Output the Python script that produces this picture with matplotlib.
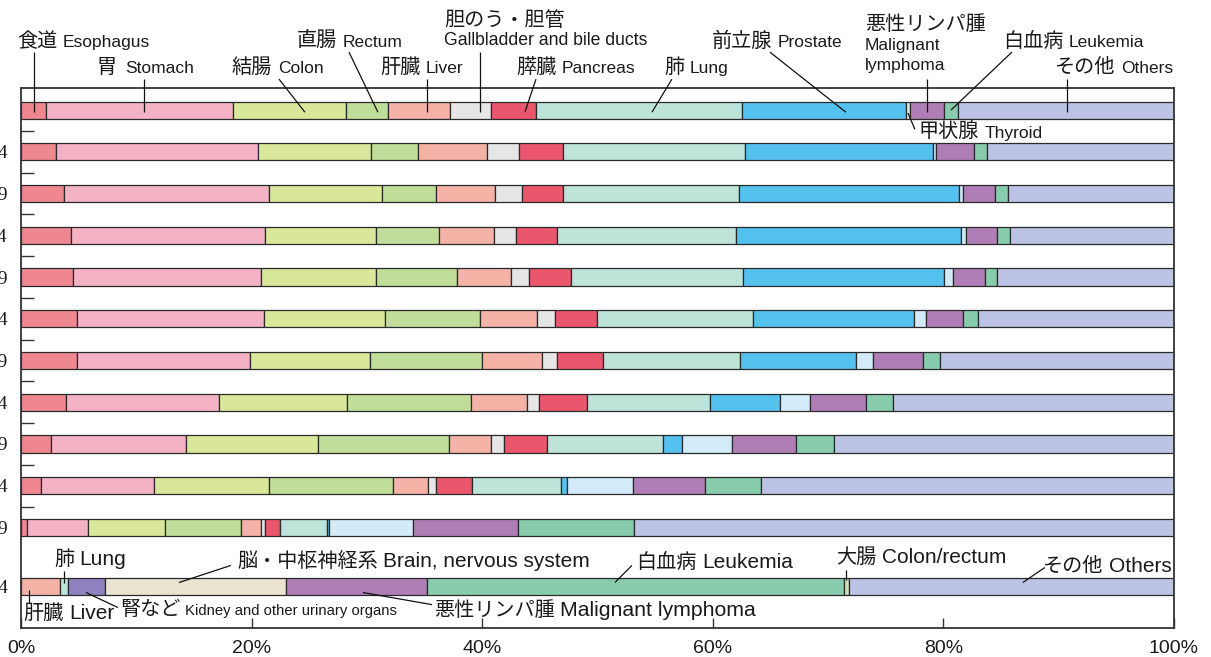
import matplotlib
matplotlib.use("Agg")
import matplotlib.pyplot as plt
import numpy as np

plt.rcParams['font.family'] = ['Liberation Sans', 'Noto Sans CJK JP']

# Cancer sites and colours used for the adult rows
sites = ["食道", "胃", "結腸", "直腸", "肝臓", "胆のう・胆管", "膵臓", "肺",
         "前立腺", "甲状腺", "悪性リンパ腫", "白血病", "その他"]
site_colors = ["#EE8790", "#F4B3C4", "#D9E79A", "#C0DE9A", "#F5B3A8", "#E6E6E6",
               "#EA566C", "#BEE3D8", "#55C1EF", "#D3EBF8", "#B07EB6", "#88CCAE",
               "#BCC3E5"]

# Row labels (top row is the all-ages total)
age_groups = ["", "80-84", "75-79", "70-74", "65-69", "60-64", "55-59",
              "50-54", "45-49", "40-44", "15-39"]

# Share of each site (%) per row
share_all = [2.2, 16.2, 9.8, 3.6, 5.4, 3.6, 3.9, 17.8, 14.3, 0.3, 3.0, 1.2, 18.7]
share_80_84 = [3.0, 17.6, 9.8, 4.0, 6.0, 2.8, 3.8, 15.8, 16.3, 0.3, 3.3, 1.1, 16.2]
share_75_79 = [3.7, 17.8, 9.8, 4.7, 5.1, 2.4, 3.5, 15.3, 19.1, 0.3, 2.8, 1.1, 14.4]
share_70_74 = [4.3, 16.9, 9.6, 5.5, 4.7, 1.9, 3.6, 15.5, 19.5, 0.5, 2.7, 1.1, 14.2]
share_65_69 = [4.5, 16.3, 10.0, 7.0, 4.7, 1.6, 3.6, 14.9, 17.5, 0.7, 2.8, 1.1, 15.3]
share_60_64 = [4.9, 16.2, 10.5, 8.2, 5.0, 1.5, 3.7, 13.5, 14.0, 1.0, 3.2, 1.3, 17.0]
share_55_59 = [4.9, 15.0, 10.4, 9.7, 5.2, 1.3, 4.0, 11.9, 10.0, 1.5, 4.3, 1.5, 20.3]
share_50_54 = [3.9, 13.3, 11.1, 10.7, 4.9, 1.0, 4.2, 10.7, 6.0, 2.6, 4.9, 2.3, 24.4]
share_45_49 = [2.6, 11.7, 11.5, 11.3, 3.7, 1.1, 3.7, 10.1, 1.6, 4.4, 5.5, 3.3, 29.5]
share_40_44 = [1.7, 9.8, 10.0, 10.8, 3.0, 0.7, 3.1, 7.7, 0.6, 5.7, 6.2, 4.9, 35.8]
share_15_39 = [0.5, 5.3, 6.7, 6.6, 1.7, 0.4, 1.3, 4.0, 0.2, 7.3, 9.1, 10.1, 46.8]

# Childhood row has its own set of sites
child_label = "0-14"
child_sites = ["肝臓", "肺", "腎など", "脳・中枢神経系", "悪性リンパ腫", "白血病", "大腸", "その他"]
child_colors = ["#F5B3A8", "#BEE3D8", "#8F80BF", "#EAE3D0", "#B07EB6", "#88CCAE",
                "#CFDDB8", "#BCC3E5"]
child_shares = [3.4, 0.7, 3.2, 15.7, 12.2, 36.2, 0.4, 28.2]

x_ticks = [0, 20, 40, 60, 80, 100]
x_ticklabels = ["0%", "20%", "40%", "60%", "80%", "100%"]

adult_rows = [share_all, share_80_84, share_75_79, share_70_74, share_65_69,
              share_60_64, share_55_59, share_50_54, share_45_49, share_40_44,
              share_15_39]

EDGE = "#2a2a2a"
TXT = "#1a1a1a"
BAR_H = 0.41

fig = plt.figure(figsize=(12.11, 6.57), dpi=100)
ax = fig.add_axes([0.01734, 0.04414, 0.952, 0.8219])

ypos = np.arange(len(adult_rows))
for y, shares in zip(ypos, adult_rows):
    shares = np.asarray(shares, dtype=float)
    lefts = np.concatenate([[0.0], np.cumsum(shares)[:-1]])
    ax.barh(np.full(len(shares), y), shares, left=lefts, height=BAR_H,
            color=site_colors, edgecolor=EDGE, linewidth=0.9, zorder=2)

child_y = ypos[-1] + 1.42
cs = np.asarray(child_shares, dtype=float)
clefts = np.concatenate([[0.0], np.cumsum(cs)[:-1]])
ax.barh(np.full(len(cs), child_y), cs, left=clefts, height=BAR_H,
        color=child_colors, edgecolor=EDGE, linewidth=0.9, zorder=2)

ax.set_xlim(0, 100)
ax.set_ylim(child_y + 0.99, -0.53)

# Axes frame and ticks
for sp in ax.spines.values():
    sp.set_color("#333333")
    sp.set_linewidth(1.3)

ax.set_xticks(x_ticks)
ax.set_xticklabels(x_ticklabels, fontsize=14, color=TXT)
ax.tick_params(axis="x", direction="in", length=7, width=1.0, color="#333333", pad=8.5)

ax.set_yticks(list(ypos[1:]) + [child_y])
ax.set_yticklabels(age_groups[1:] + [child_label], fontsize=14, color=TXT,
                   family=["Liberation Serif"])
ax.tick_params(axis="y", which="major", length=0, pad=9.5)
ax.set_yticks(ypos[1:] - 0.5, minor=True)
ax.tick_params(axis="y", which="minor", direction="in", length=9, width=1.0,
               color="#333333")


def label(x, y, jp, en="", jp_size=14.5, en_size=12.5, gap=4):
    t = ax.text(x, y, jp, fontsize=jp_size, color=TXT, ha="left", va="baseline",
                family=["Noto Sans CJK JP"], zorder=5, clip_on=False)
    if en:
        ax.annotate(en, xy=(1, y), xycoords=(t, "data"), xytext=(gap, 0),
                    textcoords="offset points", fontsize=en_size, color=TXT,
                    ha="left", va="baseline", zorder=5, annotation_clip=False)
    return t


def en_text(x, y, s, size=12.5):
    ax.text(x, y, s, fontsize=size, color=TXT, ha="left", va="baseline",
            zorder=5, clip_on=False)


def leader(x0, y0, x1, y1):
    ax.plot([x0, x1], [y0, y1], color="#111111", linewidth=0.9, zorder=4,
            clip_on=False, solid_capstyle="butt")


# Labels above the total row
label(-0.35, -1.51, "食道", "Esophagus")
leader(1.13, -1.39, 1.13, 0.05)
label(6.59, -0.887, "胃", "Stomach", gap=6)
leader(10.67, -0.743, 10.67, 0.05)
label(18.30, -0.887, "結腸", "Colon")
leader(22.38, -0.743, 24.63, 0.05)
label(23.94, -1.51, "直腸", "Rectum")
leader(28.45, -1.39, 30.96, 0.05)
label(31.14, -0.887, "肝臓", "Liver")
leader(35.21, -0.743, 35.21, 0.05)
label(36.69, -2.02, "胆のう・胆管")
en_text(36.69, -1.56, "Gallbladder and bile ducts", size=12.7)
leader(39.81, -1.39, 39.81, 0.05)
label(42.93, -0.887, "膵臓", "Pancreas")
leader(44.67, -0.743, 43.71, 0.05)
label(55.77, -0.887, "肺", "Lung")
leader(56.46, -0.743, 54.73, 0.05)
label(59.93, -1.51, "前立腺", "Prostate")
leader(64.96, -1.39, 71.55, 0.05)
label(73.2, -1.92, "悪性リンパ腫")
en_text(73.2, -1.44, "Malignant")
en_text(73.2, -0.96, "lymphoma")
leader(78.58, -0.743, 78.58, 0.05)
label(85.17, -1.51, "白血病", "Leukemia")
leader(85.95, -1.39, 80.66, 0.0)
label(89.68, -0.887, "その他", "Others")
leader(90.72, -0.743, 90.72, 0.05)
label(77.88, 0.67, "甲状腺", "Thyroid")
leader(76.93, 0.07, 77.54, 0.46)

# Labels around the childhood row
label(2.86, 10.91, "肺", "Lung", en_size=15)
leader(3.73, 11.055, 3.73, 11.32)
label(18.73, 10.95, "脳・中枢神経系", "Brain, nervous system", en_size=15)
leader(18.21, 10.91, 13.70, 11.32)
label(53.34, 10.98, "白血病", "Leukemia", en_size=15)
leader(52.99, 10.91, 51.52, 11.32)
label(70.68, 10.86, "大腸", "Colon/rectum", en_size=15)
leader(71.55, 11.01, 71.55, 11.27)
label(88.64, 11.07, "その他", "Others", en_size=15)
leader(88.81, 10.96, 86.9, 11.32)
label(0.17, 12.2, "肝臓", "Liver", en_size=15)
leader(0.69, 11.51, 0.69, 11.82)
label(8.59, 12.11, "腎など", "Kidney and other urinary organs", en_size=10.7, gap=3)
leader(5.64, 11.56, 8.41, 11.92)
label(35.82, 12.13, "悪性リンパ腫", "Malignant lymphoma", en_size=15.3)
leader(29.66, 11.56, 35.65, 11.85)

fig.savefig("out.png", dpi=100)
